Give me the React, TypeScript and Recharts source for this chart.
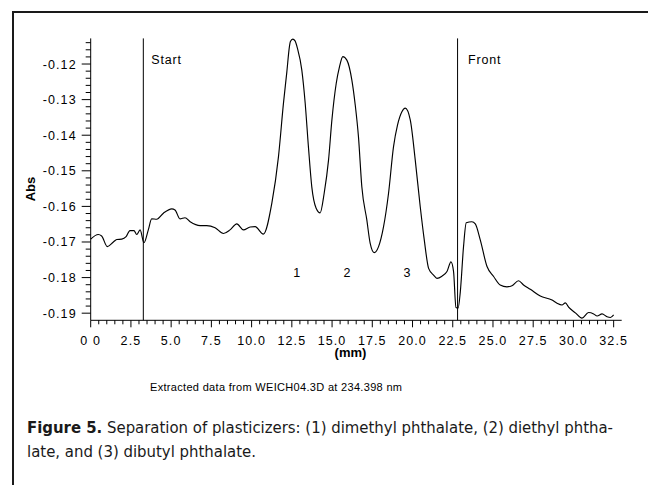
import React from 'react';
import { LineChart, Line, XAxis, YAxis, ReferenceLine, ReferenceDot } from 'recharts';

// distance along the plate (mm) and absorbance
const positionMm = [
  0, 0.47, 0.68, 1.03, 1.41, 1.62, 1.93, 2.2, 2.44, 2.69,
  2.86, 3.07, 3.31, 3.58, 3.79, 4.1, 4.52, 5.04, 5.24, 5.55,
  5.86, 6.18, 6.8, 7.21, 7.73, 8.25, 8.66, 9.08, 9.49, 9.91,
  10.22, 10.73, 11.26, 11.67, 11.98, 12.19, 12.35, 12.41, 12.56, 12.7, 12.85, 13.12, 13.33,
  13.53, 13.74, 14.01, 14.26, 14.51, 14.78, 14.99, 15.26, 15.46, 15.67,
  15.92, 16.23, 16.44, 16.64, 16.85, 17.16, 17.37, 17.62, 17.89, 18.2,
  18.51, 18.82, 19.07, 19.34, 19.55, 19.86, 20.17, 20.48, 20.73, 21.0,
  21.31, 21.52, 21.83, 22.14, 22.39, 22.55, 22.7, 22.83, 22.97, 23.17,
  23.34, 23.69, 23.9, 24.21, 24.63, 25.04, 25.45, 25.87, 26.18, 26.59,
  26.9, 27.32, 27.94, 28.67, 28.98, 29.29, 29.5, 29.7, 30.12, 30.53,
  30.94, 31.26, 31.47, 31.78, 32.09, 32.3, 32.5,
];

const absorbance = [
  -0.1692, -0.1679, -0.1683, -0.1713, -0.17, -0.1693, -0.1692, -0.1685, -0.1668, -0.1668,
  -0.1679, -0.1666, -0.1702, -0.1666, -0.1635, -0.1636, -0.1619, -0.1607, -0.161, -0.1635,
  -0.1632, -0.1643, -0.1654, -0.1654, -0.166, -0.1676, -0.1666, -0.1649, -0.1666, -0.1658,
  -0.1657, -0.1678, -0.159, -0.146, -0.131, -0.1222, -0.1151, -0.1137, -0.113, -0.1135, -0.1156, -0.1217, -0.131,
  -0.1432, -0.1545, -0.1605, -0.1618, -0.1563, -0.147, -0.1357, -0.1254, -0.1208, -0.1179,
  -0.1189, -0.1245, -0.1315, -0.1404, -0.1545, -0.1638, -0.1704, -0.173, -0.1713, -0.1657,
  -0.1563, -0.1432, -0.1371, -0.1334, -0.1324, -0.1357, -0.147, -0.1601, -0.1694, -0.1774,
  -0.1793, -0.1802, -0.1796, -0.1783, -0.1756, -0.1783, -0.1884, -0.1886, -0.184, -0.1713,
  -0.1646, -0.1643, -0.1649, -0.1694, -0.1769, -0.1797, -0.1821, -0.1826, -0.1823, -0.1809,
  -0.1821, -0.1833, -0.1852, -0.1863, -0.1872, -0.1877, -0.1871, -0.1883, -0.1899, -0.1914,
  -0.1898, -0.1902, -0.1908, -0.1902, -0.191, -0.1912, -0.1905,
];

const xTicks = Array.from({ length: 66 }, (_, i) => i * 0.5);
const yTicks = Array.from({ length: 39 }, (_, i) => Math.round((-0.19 + i * 0.002) * 1000) / 1000);

const markerX = [3.27, 22.8];
const markerNames = ['Start', 'Front'];

const peakX = [12.81, 15.92, 19.65];
const peakY = -0.1785;
const peakNames = ['1', '2', '3'];

const data = positionMm.map((x, i) => ({ x, abs: absorbance[i] }));

const FONT = '"Liberation Sans", Arial, Helvetica, sans-serif';
const CAPTION_FONT = '"Liberation Sans Narrow", "DejaVu Sans Condensed", "Roboto", sans-serif';
const isMultiple = (v: number, step: number) => Math.abs(v / step - Math.round(v / step)) < 1e-6;

const XTick = ({ x, y, payload }: any) => {
  const v = payload.value;
  const major = isMultiple(v, 2.5);
  return (
    <g>
      <line x1={x} x2={x} y1={y} y2={y + (major ? 7 : 4)} stroke="#000" strokeWidth={1} />
      {major && (
        <text x={x} y={y + 24.7} textAnchor="middle" fontFamily={FONT} fontSize={12.5} letterSpacing={1.1} fill="#000">
          {v === 0 ? '0 0' : v.toFixed(1)}
        </text>
      )}
    </g>
  );
};

const YTick = ({ x, y, payload }: any) => {
  const v = payload.value;
  const major = isMultiple(v, 0.01);
  return (
    <g>
      <line x1={x - (major ? 9 : 5)} x2={x} y1={y} y2={y} stroke="#000" strokeWidth={1} />
      {major && (
        <text x={x - 14} y={y + 4.5} textAnchor="end" fontFamily={FONT} fontSize={12.5} letterSpacing={1.1} fill="#000">
          {v.toFixed(2)}
        </text>
      )}
    </g>
  );
};

export default function App() {
  return (
    <div style={{ position: 'absolute', left: 0, top: 0, width: 648, height: 485, background: '#fff', overflow: 'hidden' }}>
      <div style={{ position: 'absolute', left: 12, top: 11, width: 640, height: 480, borderTop: '2px solid #1a1a1a', borderLeft: '2px solid #1a1a1a' }} />
      <div style={{ position: 'absolute', left: 0, top: 0 }}>
        <LineChart width={648} height={485} data={data} margin={{ top: 38.4, right: 26.3, bottom: 134.7, left: 12.7 }}>
          <XAxis
            dataKey="x"
            type="number"
            domain={[0, 33]}
            ticks={xTicks}
            interval={0}
            height={30}
            tickSize={0}
            tickMargin={0}
            tickLine={false}
            axisLine={{ stroke: '#000', strokeWidth: 1 }}
            tick={<XTick />}
          />
          <YAxis
            type="number"
            domain={[-0.192, -0.1128]}
            ticks={yTicks}
            interval={0}
            width={78}
            tickSize={0}
            tickMargin={0}
            tickLine={false}
            axisLine={{ stroke: '#000', strokeWidth: 1 }}
            tick={<YTick />}
          />
          {markerX.map((mx, i) => (
            <ReferenceLine
              key={markerNames[i]}
              x={mx}
              stroke="#000"
              strokeWidth={1}
              label={(p: any) => (
                <text x={p.viewBox.x + (i === 0 ? 8 : 10.5)} y={p.viewBox.y + 25.5} fontFamily={FONT} fontSize={12.5} letterSpacing={0.8} fill="#000">
                  {markerNames[i]}
                </text>
              )}
            />
          ))}
          {peakX.map((px, i) => (
            <ReferenceDot
              key={peakNames[i]}
              x={px}
              y={peakY}
              r={0}
              fill="none"
              stroke="none"
              label={(p: any) => (
                <text x={p.viewBox.x + p.viewBox.width / 2} y={p.viewBox.y + p.viewBox.height / 2 + 4.5} textAnchor="middle" fontFamily={FONT} fontSize={12.5} fill="#000">
                  {peakNames[i]}
                </text>
              )}
            />
          ))}
          <Line dataKey="abs" type="monotone" stroke="#000" strokeWidth={1.15} dot={false} isAnimationActive={false} />
        </LineChart>
      </div>
      <svg width={648} height={485} style={{ position: 'absolute', left: 0, top: 0, pointerEvents: 'none' }}>
        <text transform="translate(34.5,189) rotate(-90)" textAnchor="middle" fontFamily={FONT} fontSize={13} fontWeight="bold" fill="#000">
          Abs
        </text>
        <text x={350.5} y={357} textAnchor="middle" fontFamily={FONT} fontSize={13} fontWeight="bold" fill="#000">
          (mm)
        </text>
        <text x={150} y={391} fontFamily={FONT} fontSize={11} textLength={252} lengthAdjust="spacing" fill="#000">
          Extracted data from WEICH04.3D at 234.398 nm
        </text>
        <text x={27} y={433} fontFamily={CAPTION_FONT} fontSize={16} textLength={586} lengthAdjust="spacingAndGlyphs" fill="#1a1a1a">
          <tspan fontWeight="bold">Figure 5.</tspan> Separation of plasticizers: (1) dimethyl phthalate, (2) diethyl phtha-
        </text>
        <text x={27} y={457} fontFamily={CAPTION_FONT} fontSize={16} textLength={229} lengthAdjust="spacingAndGlyphs" fill="#1a1a1a">
          late, and (3) dibutyl phthalate.
        </text>
      </svg>
    </div>
  );
}
